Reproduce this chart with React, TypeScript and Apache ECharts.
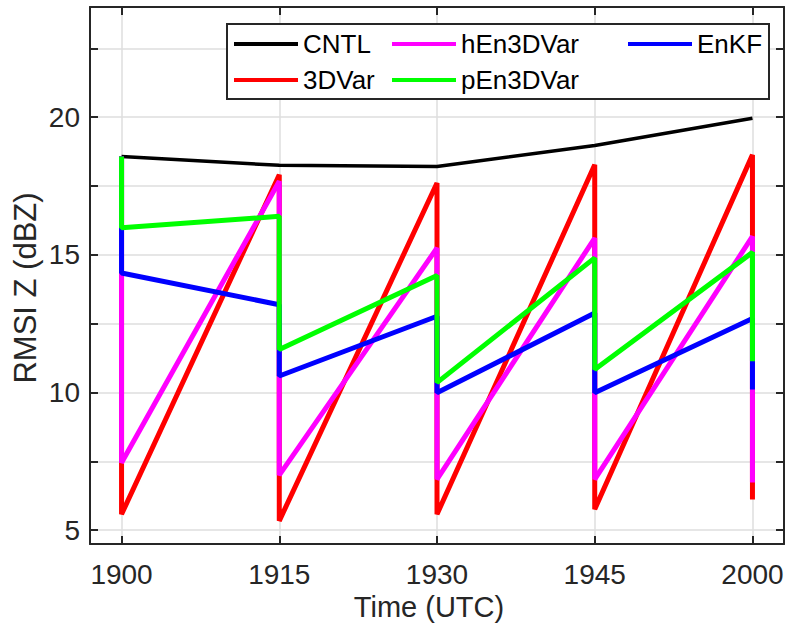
import React, { useEffect, useRef } from "react";
import * as echarts from "echarts";

const timeLabels = ["1900", "1915", "1930", "1945", "2000"];
const timeIndex = [0, 1, 2, 3, 4];

const cntl = [18.57, 18.25, 18.21, 18.97, 19.96];
// value before the analysis (forecast) and after the analysis at each cycle time
const var3dForecast = [18.57, 17.91, 17.61, 18.27, 18.63];
const var3dAnalysis = [5.58, 5.34, 5.58, 5.76, 6.12];
const hEnForecast = [18.57, 17.67, 15.25, 15.61, 15.67];
const hEnAnalysis = [7.45, 7.0, 6.85, 6.85, 6.73];
const pEnForecast = [18.57, 16.4, 14.25, 14.89, 15.09];
const pEnAnalysis = [15.98, 11.56, 10.36, 10.84, 11.14];
const enkfForecast = [18.57, 13.19, 12.77, 12.89, 12.69];
const enkfAnalysis = [14.34, 10.6, 9.99, 9.99, 10.11];

const yTickValues = [5, 7.5, 10, 12.5, 15, 17.5, 20, 22.5];
const yLabelValues = [5, 10, 15, 20];

const FONT = "'Liberation Sans', Arial, Helvetica, sans-serif";
const AX = "#262626";

function sawtooth(f: number[], a: number[]) {
  const out: number[][] = [];
  timeIndex.forEach((t, i) => {
    out.push([t, f[i]]);
    out.push([t, a[i]]);
  });
  return out;
}

export default function App() {
  const ref = useRef<HTMLDivElement>(null);
  useEffect(() => {
    if (!ref.current) return;
    const chart = echarts.init(ref.current, undefined, { renderer: "svg" });
    const lineSeries = (name: string, color: string, data: number[][], width: number) => ({
      name,
      type: "line",
      data,
      color,
      showSymbol: false,
      symbol: "none",
      lineStyle: { color, width },
      itemStyle: { color },
      xAxisIndex: 0,
      yAxisIndex: 0,
    });
    const legendBase = {
      orient: "vertical",
      top: 31,
      itemWidth: 64,
      itemHeight: 4,
      icon: "rect",
      itemGap: 10,
      padding: 0,
      selectedMode: false,
      z: 20,
      textStyle: { fontSize: 26, color: "#000", fontFamily: FONT, lineHeight: 26 },
    };
    chart.setOption({
      animation: false,
      backgroundColor: "#ffffff",
      grid: { left: 90, right: 4, top: 7, bottom: 87, containLabel: false },
      xAxis: [
        {
          type: "value",
          min: -0.2,
          max: 4.2,
          position: "bottom",
          axisLine: { show: true, onZero: false, lineStyle: { color: AX, width: 2 } },
          axisTick: { show: true, inside: true, length: 8, customValues: timeIndex, lineStyle: { color: AX, width: 2 } },
          axisLabel: {
            customValues: timeIndex,
            formatter: (v: number) => timeLabels[Math.round(v)] ?? "",
            fontSize: 28,
            color: AX,
            fontFamily: FONT,
            margin: 16,
          },
          splitLine: { show: true, lineStyle: { color: "#dedede", width: 1.5 } },
        },
        {
          type: "value",
          min: -0.2,
          max: 4.2,
          position: "top",
          axisLine: { show: true, onZero: false, lineStyle: { color: AX, width: 2 } },
          axisTick: { show: true, inside: true, length: 8, customValues: timeIndex, lineStyle: { color: AX, width: 2 } },
          axisLabel: { show: false },
          splitLine: { show: false },
        },
      ],
      yAxis: [
        {
          type: "value",
          min: 4.5,
          max: 24,
          position: "left",
          axisLine: { show: true, onZero: false, lineStyle: { color: AX, width: 2 } },
          axisTick: { show: true, inside: true, length: 8, customValues: yTickValues, lineStyle: { color: AX, width: 2 } },
          axisLabel: { customValues: yLabelValues, fontSize: 28, color: AX, fontFamily: FONT, margin: 10 },
          splitLine: { show: true, lineStyle: { color: "#dedede", width: 1.5 } },
        },
        {
          type: "value",
          min: 4.5,
          max: 24,
          position: "right",
          axisLine: { show: true, onZero: false, lineStyle: { color: AX, width: 2 } },
          axisTick: { show: true, inside: true, length: 8, customValues: yTickValues, lineStyle: { color: AX, width: 2 } },
          axisLabel: { show: false },
          splitLine: { show: false },
        },
      ],
      legend: [
        { ...legendBase, left: 234, data: ["CNTL", "3DVar"] },
        { ...legendBase, left: 392, data: ["hEn3DVar", "pEn3DVar"] },
        { ...legendBase, left: 628, data: ["EnKF"] },
      ],
      graphic: [
        {
          type: "rect",
          z: 10,
          shape: { x: 227, y: 24, width: 542, height: 75 },
          style: { fill: "#ffffff", stroke: AX, lineWidth: 2 },
        },
        {
          type: "text",
          x: 429,
          y: 607,
          style: { text: "Time (UTC)", fontSize: 29, fill: AX, fontFamily: FONT, align: "center", verticalAlign: "middle" },
        },
        {
          type: "text",
          x: 25,
          y: 288,
          rotation: Math.PI / 2,
          style: { text: "RMSI Z (dBZ)", fontSize: 31, fill: AX, fontFamily: FONT, align: "center", verticalAlign: "middle" },
        },
      ],
      series: [
        lineSeries("CNTL", "#000000", timeIndex.map((t, i) => [t, cntl[i]]), 3.5),
        lineSeries("3DVar", "#ff0000", sawtooth(var3dForecast, var3dAnalysis), 5),
        lineSeries("hEn3DVar", "#ff00ff", sawtooth(hEnForecast, hEnAnalysis), 5),
        lineSeries("EnKF", "#0000ff", sawtooth(enkfForecast, enkfAnalysis), 5),
        lineSeries("pEn3DVar", "#00ff00", sawtooth(pEnForecast, pEnAnalysis), 5),
      ],
    });
    return () => chart.dispose();
  }, []);
  return (
    <div
      ref={ref}
      style={{ position: "absolute", left: 0, top: 0, width: 788, height: 631, background: "#fff" }}
    />
  );
}
